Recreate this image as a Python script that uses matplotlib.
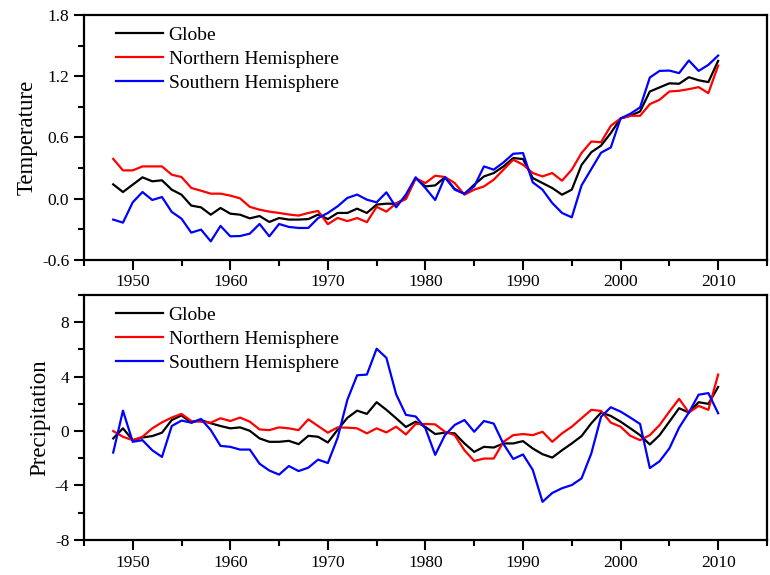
import numpy as np
import matplotlib
matplotlib.use("Agg")
import matplotlib.pyplot as plt
from matplotlib.ticker import MultipleLocator, FormatStrFormatter

plt.rcParams['font.family'] = ['Liberation Serif', 'DejaVu Serif']
plt.rcParams['axes.unicode_minus'] = False

years = list(range(1948, 2011))

temp_globe = [0.14, 0.065, 0.137, 0.209, 0.17, 0.18, 0.088, 0.039, -0.068, -0.085,
              -0.157, -0.091, -0.147, -0.157, -0.193, -0.17, -0.228, -0.19, -0.205, -0.205,
              -0.2, -0.156, -0.2, -0.14, -0.14, -0.098, -0.14, -0.058, -0.049, -0.05,
              0.007, 0.2, 0.12, 0.13, 0.209, 0.095, 0.047, 0.137, 0.218, 0.251,
              0.316, 0.398, 0.388, 0.202, 0.153, 0.104, 0.039, 0.088, 0.33, 0.455,
              0.52, 0.643, 0.786, 0.812, 0.855, 1.05, 1.09, 1.13, 1.126, 1.19,
              1.16, 1.142, 1.35]
temp_nh = [0.39, 0.277, 0.277, 0.316, 0.316, 0.316, 0.235, 0.212, 0.105, 0.078,
           0.049, 0.049, 0.03, 0.003, -0.08, -0.108, -0.127, -0.14, -0.155, -0.166,
           -0.14, -0.12, -0.25, -0.189, -0.22, -0.19, -0.23, -0.08, -0.127, -0.045,
           -0.005, 0.2, 0.153, 0.225, 0.212, 0.153, 0.039, 0.088, 0.12, 0.186,
           0.284, 0.382, 0.333, 0.251, 0.218, 0.251, 0.176, 0.284, 0.447, 0.56,
           0.553, 0.714, 0.786, 0.812, 0.812, 0.926, 0.969, 1.05, 1.057, 1.073,
           1.093, 1.034, 1.304]
temp_sh = [-0.205, -0.235, -0.036, 0.065, -0.013, 0.016, -0.13, -0.196, -0.333, -0.303,
           -0.418, -0.267, -0.369, -0.366, -0.343, -0.248, -0.369, -0.248, -0.277, -0.287,
           -0.287, -0.19, -0.14, -0.075, 0.007, 0.04, -0.01, -0.036, 0.062, -0.085,
           0.04, 0.209, 0.104, -0.013, 0.212, 0.088, 0.049, 0.12, 0.316, 0.284,
           0.355, 0.44, 0.447, 0.16, 0.088, -0.043, -0.14, -0.183, 0.13, 0.29,
           0.45, 0.502, 0.786, 0.832, 0.894, 1.187, 1.252, 1.255, 1.23, 1.354,
           1.252, 1.311, 1.402]

prec_globe = [-0.54, 0.2, -0.67, -0.47, -0.37, -0.12, 0.81, 1.15, 0.62, 0.81,
              0.57, 0.37, 0.2, 0.27, 0.02, -0.54, -0.79, -0.79, -0.72, -0.96,
              -0.35, -0.42, -0.84, 0.1, 0.97, 1.5, 1.26, 2.12, 1.56, 0.94,
              0.3, 0.69, 0.3, -0.22, -0.12, -0.17, -0.91, -1.53, -1.16, -1.21,
              -0.91, -0.91, -0.74, -1.28, -1.7, -1.95, -1.41, -0.91, -0.37, 0.57,
              1.36, 1.11, 0.69, 0.2, -0.3, -0.99, -0.3, 0.69, 1.68, 1.36,
              2.12, 2.0, 3.24]
prec_nh = [0.0, -0.42, -0.67, -0.42, 0.2, 0.64, 0.99, 1.26, 0.74, 0.69,
           0.62, 0.94, 0.74, 0.99, 0.69, 0.12, 0.07, 0.27, 0.2, 0.07,
           0.86, 0.37, -0.12, 0.27, 0.25, 0.2, -0.17, 0.2, -0.1, 0.32,
           -0.25, 0.52, 0.52, 0.49, -0.05, -0.3, -1.41, -2.2, -2.02, -2.02,
           -0.79, -0.3, -0.22, -0.3, -0.05, -0.79, -0.17, 0.32, 0.94, 1.56,
           1.48, 0.62, 0.32, -0.35, -0.67, -0.3, 0.44, 1.43, 2.37, 1.36,
           1.85, 1.56, 4.15]
prec_sh = [-1.58, 1.5, -0.79, -0.67, -1.41, -1.9, 0.37, 0.77, 0.62, 0.89,
           0.074, -1.09, -1.16, -1.36, -1.36, -2.4, -2.9, -3.2, -2.57, -2.94,
           -2.69, -2.1, -2.35, -0.5, 2.3, 4.1, 4.15, 6.05, 5.38, 2.7,
           1.19, 1.07, 0.2, -1.75, -0.3, 0.45, 0.81, -0.05, 0.74, 0.55,
           -0.95, -2.05, -1.72, -2.85, -5.2, -4.55, -4.2, -3.97, -3.48, -1.65,
           1.05, 1.75, 1.43, 0.99, 0.52, -2.72, -2.22, -1.28, 0.25, 1.36,
           2.67, 2.79, 1.31]

labels = ["Globe", "Northern Hemisphere", "Southern Hemisphere"]
colors = ["black", "#ff0000", "#0000ff"]

fig = plt.figure(figsize=(7.7, 5.75), dpi=100)
ax1 = fig.add_axes([0.109, 0.548, 0.887, 0.426])
ax2 = fig.add_axes([0.109, 0.061, 0.887, 0.426])

def style(ax, ylim, major, minor, fmt, ylabel):
    ax.set_xlim(1945, 2015)
    ax.set_ylim(*ylim)
    ax.xaxis.set_major_locator(MultipleLocator(10))
    ax.xaxis.set_minor_locator(MultipleLocator(5))
    ax.yaxis.set_major_locator(MultipleLocator(major))
    ax.yaxis.set_minor_locator(MultipleLocator(minor))
    ax.yaxis.set_major_formatter(FormatStrFormatter(fmt))
    ax.tick_params(which='major', direction='out', length=7, width=1.5, labelsize=12.5)
    ax.tick_params(which='minor', direction='out', length=4, width=1.5)
    ax.tick_params(top=False, right=False, which='both')
    for s in ax.spines.values():
        s.set_linewidth(1.6)
    ax.set_ylabel(ylabel, fontsize=16.5, labelpad=3)
    ax.legend(loc='upper left', frameon=False, fontsize=14, handlelength=2.4,
              labelspacing=0.32, borderaxespad=0.2, bbox_to_anchor=(0.03, 1.0),
              handletextpad=0.3)

for vals, lab, c in zip([temp_globe, temp_nh, temp_sh], labels, colors):
    ax1.plot(years, vals, color=c, lw=1.6, label=lab)
style(ax1, (-0.6, 1.8), 0.6, 0.3, '%.1f', 'Temperature')

for vals, lab, c in zip([prec_globe, prec_nh, prec_sh], labels, colors):
    ax2.plot(years, vals, color=c, lw=1.6, label=lab)
style(ax2, (-8, 10), 4, 2, '%d', 'Precipitation')

fig.savefig("out.png", dpi=100)
